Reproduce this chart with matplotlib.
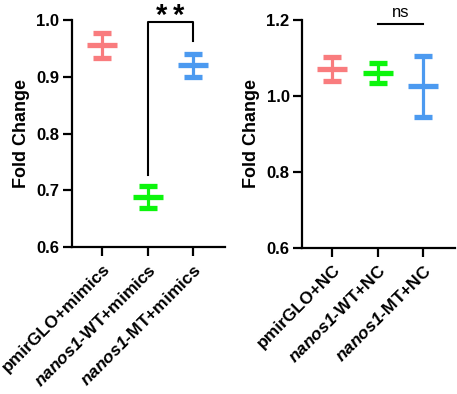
import matplotlib
matplotlib.use('Agg')
import matplotlib.pyplot as plt

plt.rcParams['font.family'] = ['Liberation Sans', 'DejaVu Sans']
plt.rcParams['mathtext.fontset'] = 'custom'
plt.rcParams['mathtext.bfit'] = 'Liberation Sans:italic:bold'
plt.rcParams['mathtext.bf'] = 'Liberation Sans:bold'
plt.rcParams['mathtext.rm'] = 'Liberation Sans:bold'

# data (mean, upper, lower)
labels_left = ['pmirGLO+mimics', '$\\mathbfit{nanos1}$-WT+mimics', '$\\mathbfit{nanos1}$-MT+mimics']
mean_left = [0.956, 0.689, 0.921]
upper_left = [0.978, 0.708, 0.941]
lower_left = [0.934, 0.669, 0.900]

labels_right = ['pmirGLO+NC', '$\\mathbfit{nanos1}$-WT+NC', '$\\mathbfit{nanos1}$-MT+NC']
mean_right = [1.071, 1.061, 1.026]
upper_right = [1.102, 1.088, 1.106]
lower_right = [1.040, 1.035, 0.944]

colors = ['#F97C7E', '#0CF50C', '#4C9AF0']

fig = plt.figure(figsize=(4.57, 3.94), dpi=100)
ax1 = fig.add_axes([0.1575, 0.373, 0.335, 0.576])
ax2 = fig.add_axes([0.661, 0.371, 0.335, 0.578])


def draw_panel(ax, means, ups, lows, labels, ylim, yticks):
    for i, (m, u, l) in enumerate(zip(means, ups, lows)):
        ax.errorbar(i, m, yerr=[[m - l], [u - m]], fmt='_', color=colors[i],
                    markersize=22, markeredgewidth=3.8, elinewidth=2.3,
                    capsize=6.5, capthick=2.3, clip_on=False)
    ax.set_xlim(-0.66, 2.7)
    ax.set_ylim(*ylim)
    ax.set_yticks(yticks)
    ax.set_yticklabels(['%.1f' % t for t in yticks], fontweight='bold', fontsize=12)
    ax.set_xticks(range(3))
    ax.set_xticklabels(labels, rotation=45, ha='right', rotation_mode='anchor',
                       fontweight='bold', fontsize=12.5)
    ax.spines['top'].set_visible(False)
    ax.spines['right'].set_visible(False)
    ax.spines['left'].set_linewidth(1.6)
    ax.spines['bottom'].set_linewidth(1.6)
    ax.tick_params(width=1.6, length=6.5, pad=2.5)
    ax.tick_params(axis='x', pad=4)
    ax.set_ylabel('Fold Change', fontweight='bold', fontsize=13, labelpad=5)


draw_panel(ax1, mean_left, upper_left, lower_left, labels_left, (0.6, 1.0),
           [0.6, 0.7, 0.8, 0.9, 1.0])
draw_panel(ax2, mean_right, upper_right, lower_right, labels_right, (0.6, 1.2),
           [0.6, 0.8, 1.0, 1.2])

# significance marks
ax1.plot([1, 1, 2, 2], [0.727, 0.997, 0.997, 0.9635], color='black', lw=1.5, clip_on=False)
ax1.text(1.5, 1.033, '$\\mathbf{**}$', ha='center', va='top', fontsize=21)
ax2.plot([1, 2], [1.191, 1.191], color='black', lw=1.5, clip_on=False)
ax2.text(1.5, 1.2, 'ns', ha='center', va='bottom', fontsize=12)

fig.savefig('out.png', dpi=100)
